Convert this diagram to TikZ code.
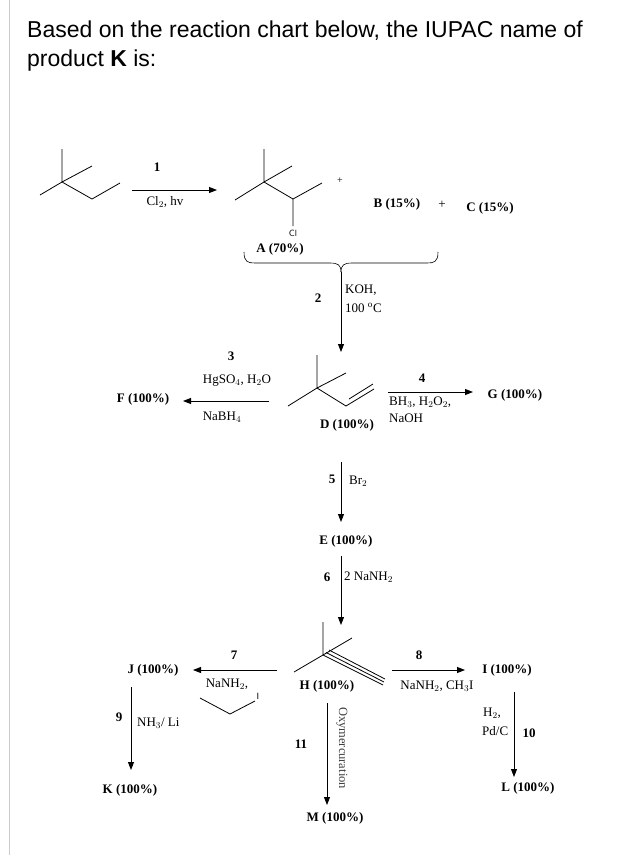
\documentclass[tikz,border=0pt]{standalone}
\usepackage{fontspec}
\setmainfont{Liberation Serif}
\newfontfamily\hdr{Liberation Sans}
\usetikzlibrary{arrows.meta,decorations.pathreplacing}
\begin{document}
\begin{tikzpicture}[x=1pt,y=-1pt,
  bond/.style={line width=0.8pt},
  rxn/.style={line width=0.9pt,-{Triangle[length=8pt,width=6pt]}},
  lbl/.style={font=\fontsize{13}{15}\selectfont,inner sep=0pt},
  cmp/.style={font=\fontsize{13}{15}\selectfont\bfseries,inner sep=0pt},
  num/.style={font=\fontsize{13}{15}\selectfont\bfseries,inner sep=0pt}]
\useasboundingbox (0,0) rectangle (621,855);
\fill[white] (0,0) rectangle (621,855);
\draw[gray!40,line width=1pt] (9,0) -- (9,855);
\node[anchor=west,font=\hdr\fontsize{23}{27}\selectfont,inner sep=0pt] (h1) at (27,31) {Based on the reaction chart below, the IUPAC name of};
\node[anchor=west,font=\hdr\fontsize{23}{27}\selectfont,inner sep=0pt] (h2) at (27,61) {product \textbf{K} is:};
% starting material
\draw[bond] (62,149) -- (62,182) -- (40,195) (62,182) -- (92,166) (62,182) -- (92,199) -- (120,183);
\coordinate (s1) at (132,190); \coordinate (e1) at (217,190);
\draw[rxn] (s1) -- (e1);
\node[num] at (157,167) {1};
\node[lbl] at (165,202) {Cl$_2$, hv};
% A
\draw[bond] (264,149) -- (264,182) -- (235,200) (264,182) -- (292,166) (264,182) -- (293,199) -- (322,183) (293,199) -- (293,226);
\node[font=\sffamily\fontsize{9}{10}\selectfont,inner sep=0pt] (cl) at (293,233) {Cl};
\node[lbl,font=\fontsize{10}{10}\selectfont] at (340,181) {+};
\node[cmp] (A) at (280,249) {A (70\%)};
\node[cmp] (B) at (397,204) {B (15\%)};
\node[lbl] at (442,205) {+};
\node[cmp] (C) at (490,208) {C (15\%)};
\draw[line width=0.6pt] (244,252) .. controls (244,262) and (248,263) .. (255,263) -- (330,263) .. controls (338,263) and (341,265) .. (341,272);
\draw[line width=0.6pt] (438,252) .. controls (438,262) and (434,263) .. (427,263) -- (352,263) .. controls (344,263) and (341,265) .. (341,272);
\coordinate (s2) at (341,272); \coordinate (e2) at (341,352);
\draw[rxn] (s2) -- (e2);
\node[num] at (318,298) {2};
\node[lbl,anchor=west] at (345,290) {KOH,};
\node[lbl,anchor=west] at (345,308) {100 $^{\mathrm{o}}$C};
% D
\draw[bond] (317,355) -- (317,388) -- (288,406) (317,388) -- (346,373) (317,388) -- (346,406) -- (374,389);
\draw[bond] (349,399) -- (373,384);
\node[cmp] (D) at (347,425) {D (100\%)};
\node[cmp] (F) at (143,399) {F (100\%)};
\coordinate (s3) at (269,401); \coordinate (e3) at (183,401);
\draw[rxn] (s3) -- (e3);
\node[num] at (231,356) {3};
\node[lbl] at (237,381) {HgSO$_4$, H$_2$O};
\node[lbl] at (222,417) {NaBH$_4$};
\node[cmp] (G) at (515,395) {G (100\%)};
\coordinate (s4) at (388,392); \coordinate (e4) at (473,392);
\draw[rxn] (s4) -- (e4);
\node[num] at (422,378) {4};
\node[lbl,anchor=west] at (389,402) {BH$_3$, H$_2$O$_2$,};
\node[lbl,anchor=west] at (389,418) {NaOH};
% E
\draw[rxn] (341,462) -- (341,522);
\node[num] at (332,479) {5};
\node[lbl,anchor=west] at (349,481) {Br$_2$};
\node[cmp] (E) at (346,541) {E (100\%)};
\coordinate (s6) at (341,556); \coordinate (e6) at (341,625);
\draw[rxn] (s6) -- (e6);
\node[num] at (327,577) {6};
\node[lbl,anchor=west] at (344,577) {2 NaNH$_2$};
% H
\draw[bond] (323,622) -- (323,655) -- (294,672) (323,655) -- (352,638) (323,655) -- (383,685);
\draw[bond] (329,650) -- (385,679) (326,652.5) -- (384,682);
\node[cmp] (H) at (327,686) {H (100\%)};
\node[cmp] (J) at (153,670) {J (100\%)};
\draw[rxn] (277,670) -- (193,670);
\node[num] at (234,655) {7};
\node[lbl] at (227,684) {NaNH$_2$,};
\draw[bond] (200,698) -- (230,714) -- (255,701);
\node[font=\sffamily\fontsize{9}{10}\selectfont,inner sep=0pt] at (258,696) {I};
\draw[rxn] (131,687) -- (131,770);
\node[num] at (119,717) {9};
\node[lbl,anchor=west] at (137,723) {NH$_3$/ Li};
\node[cmp] (K) at (130,790) {K (100\%)};
\node[cmp] (I) at (507,670) {I (100\%)};
\draw[rxn] (392,670) -- (465,670);
\node[num] at (419,655) {8};
\node[lbl] at (437,686) {NaNH$_2$, CH$_3$I};
\draw[rxn] (514,692) -- (514,777);
\node[lbl,anchor=west] at (483,713) {H$_2$,};
\node[lbl,anchor=west] at (482,731) {Pd/C};
\node[num] at (529,733) {10};
\node[cmp] (L) at (528,788) {L (100\%)};
\draw[rxn] (327,703) -- (327,805);
\node[num] at (301,744) {11};
\node[lbl,rotate=-90,font=\fontsize{12.5}{14}\selectfont\color{black!75}] at (342,748) {Oxymercuration};
\node[cmp] (M) at (335,818) {M (100\%)};
\end{tikzpicture}
\end{document}
